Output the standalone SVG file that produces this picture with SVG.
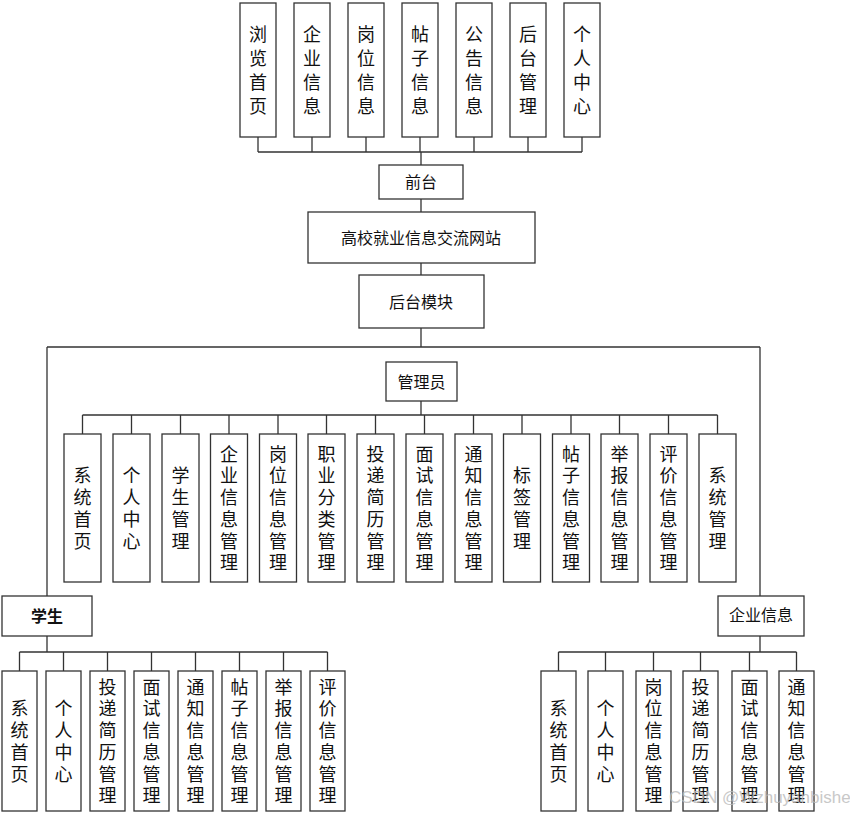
<svg xmlns="http://www.w3.org/2000/svg" width="850" height="813" viewBox="0 0 850 813">
<style>
rect.b{fill:#fff;stroke:#333;stroke-width:1.3}
.v{font-family:"Noto Sans CJK SC","Noto Sans",sans-serif;font-size:18px;fill:#111;text-anchor:middle;writing-mode:vertical-rl;letter-spacing:3.7px}
.vt{letter-spacing:6px}
.h{font-family:"Noto Sans CJK SC","Noto Sans",sans-serif;font-size:16px;fill:#111;text-anchor:middle}
.bold{font-weight:600}
#connectors path{fill:none;stroke:#333;stroke-width:1.3}
.wm{font-family:"Liberation Sans",Arial,sans-serif;font-size:17px;fill:#bbb;opacity:0.8}
</style>
<rect width="850" height="813" fill="#fff"/>
<g id="connectors">
<path d="M258 137V152M312 137V152M366 137V152M420 137V152M474 137V152M528 137V152M582 137V152M258 152H582M421 152V165"/>
<path d="M421 199V212M421 263V275M421 328V347M47 347H760M47 347V596M760 347V596"/>
<path d="M421 401V415M82.5 415H717.5M82.5 415V434M131.5 415V434M180.5 415V434M229 415V434M278 415V434M326.5 415V434M375.5 415V434M424.5 415V434M473.5 415V434M522 415V434M571 415V434M619.5 415V434M668.5 415V434M717.5 415V434"/>
<path d="M47 636V652M19.5 652H327.5M19.5 652V671M63.5 652V671M107.5 652V671M151.5 652V671M195.5 652V671M239.5 652V671M283.5 652V671M327.5 652V671"/>
<path d="M760 636V652M558.5 652H796.5M558.5 652V671M605.5 652V671M653.5 652V671M700.5 652V671M749.5 652V671M796.5 652V671"/>
</g>
<!-- top row -->
<g id="n_top1"><rect class="b" x="240" y="3" width="36" height="134"/><text class="v vt" x="258" y="73">浏览首页</text></g>
<g id="n_top2"><rect class="b" x="294" y="3" width="36" height="134"/><text class="v vt" x="312" y="73">企业信息</text></g>
<g id="n_top3"><rect class="b" x="348" y="3" width="36" height="134"/><text class="v vt" x="366" y="73">岗位信息</text></g>
<g id="n_top4"><rect class="b" x="402" y="3" width="36" height="134"/><text class="v vt" x="420" y="73">帖子信息</text></g>
<g id="n_top5"><rect class="b" x="456" y="3" width="36" height="134"/><text class="v vt" x="474" y="73">公告信息</text></g>
<g id="n_top6"><rect class="b" x="510" y="3" width="36" height="134"/><text class="v vt" x="528" y="73">后台管理</text></g>
<g id="n_top7"><rect class="b" x="564" y="3" width="36" height="134"/><text class="v vt" x="582" y="73">个人中心</text></g>
<!-- main column -->
<g id="n_qiantai"><rect class="b" x="379" y="165" width="84" height="34"/><text class="h" x="421" y="188">前台</text></g>
<g id="n_main"><rect class="b" x="308" y="212" width="227" height="51"/><text class="h" x="421" y="244">高校就业信息交流网站</text></g>
<g id="n_houtai"><rect class="b" x="359" y="275" width="125" height="53"/><text class="h" x="421" y="308">后台模块</text></g>
<g id="n_admin"><rect class="b" x="386" y="362" width="71" height="39"/><text class="h" x="421.5" y="388">管理员</text></g>
<!-- admin children -->
<g id="n_a1"><rect class="b" x="64" y="434" width="37" height="148"/><text class="v" x="82.5" y="510">系统首页</text></g>
<g id="n_a2"><rect class="b" x="113" y="434" width="37" height="148"/><text class="v" x="131.5" y="510">个人中心</text></g>
<g id="n_a3"><rect class="b" x="162" y="434" width="37" height="148"/><text class="v" x="180.5" y="510">学生管理</text></g>
<g id="n_a4"><rect class="b" x="210.5" y="434" width="37" height="148"/><text class="v" x="229" y="510">企业信息管理</text></g>
<g id="n_a5"><rect class="b" x="259.5" y="434" width="37" height="148"/><text class="v" x="278" y="510">岗位信息管理</text></g>
<g id="n_a6"><rect class="b" x="308" y="434" width="37" height="148"/><text class="v" x="326.5" y="510">职业分类管理</text></g>
<g id="n_a7"><rect class="b" x="357" y="434" width="37" height="148"/><text class="v" x="375.5" y="510">投递简历管理</text></g>
<g id="n_a8"><rect class="b" x="406" y="434" width="37" height="148"/><text class="v" x="424.5" y="510">面试信息管理</text></g>
<g id="n_a9"><rect class="b" x="455" y="434" width="37" height="148"/><text class="v" x="473.5" y="510">通知信息管理</text></g>
<g id="n_a10"><rect class="b" x="503.5" y="434" width="37" height="148"/><text class="v" x="522" y="510">标签管理</text></g>
<g id="n_a11"><rect class="b" x="552.5" y="434" width="37" height="148"/><text class="v" x="571" y="510">帖子信息管理</text></g>
<g id="n_a12"><rect class="b" x="601" y="434" width="37" height="148"/><text class="v" x="619.5" y="510">举报信息管理</text></g>
<g id="n_a13"><rect class="b" x="650" y="434" width="37" height="148"/><text class="v" x="668.5" y="510">评价信息管理</text></g>
<g id="n_a14"><rect class="b" x="699" y="434" width="37" height="148"/><text class="v" x="717.5" y="510">系统管理</text></g>
<!-- student -->
<g id="n_student"><rect class="b" x="2" y="596" width="90" height="40"/><text class="h bold" x="47" y="622">学生</text></g>
<g id="n_s1"><rect class="b" x="2" y="671" width="35" height="140"/><text class="v" x="19.5" y="743">系统首页</text></g>
<g id="n_s2"><rect class="b" x="46" y="671" width="35" height="140"/><text class="v" x="63.5" y="743">个人中心</text></g>
<g id="n_s3"><rect class="b" x="90" y="671" width="35" height="140"/><text class="v" x="107.5" y="743">投递简历管理</text></g>
<g id="n_s4"><rect class="b" x="134" y="671" width="35" height="140"/><text class="v" x="151.5" y="743">面试信息管理</text></g>
<g id="n_s5"><rect class="b" x="178" y="671" width="35" height="140"/><text class="v" x="195.5" y="743">通知信息管理</text></g>
<g id="n_s6"><rect class="b" x="222" y="671" width="35" height="140"/><text class="v" x="239.5" y="743">帖子信息管理</text></g>
<g id="n_s7"><rect class="b" x="266" y="671" width="35" height="140"/><text class="v" x="283.5" y="743">举报信息管理</text></g>
<g id="n_s8"><rect class="b" x="310" y="671" width="35" height="140"/><text class="v" x="327.5" y="743">评价信息管理</text></g>
<!-- company -->
<g id="n_company"><rect class="b" x="718" y="596" width="86" height="40"/><text class="h" x="761" y="621">企业信息</text></g>
<g id="n_c1"><rect class="b" x="541" y="671" width="35" height="140"/><text class="v" x="558.5" y="743">系统首页</text></g>
<g id="n_c2"><rect class="b" x="588" y="671" width="35" height="140"/><text class="v" x="605.5" y="743">个人中心</text></g>
<g id="n_c3"><rect class="b" x="636" y="671" width="35" height="140"/><text class="v" x="653.5" y="743">岗位信息管理</text></g>
<g id="n_c4"><rect class="b" x="683" y="671" width="35" height="140"/><text class="v" x="700.5" y="743">投递简历管理</text></g>
<g id="n_c5"><rect class="b" x="732" y="671" width="35" height="140"/><text class="v" x="749.5" y="743">面试信息管理</text></g>
<g id="n_c6"><rect class="b" x="779" y="671" width="35" height="140"/><text class="v" x="796.5" y="743">通知信息管理</text></g>
<text class="wm" x="669" y="803">CSDN @Wzhuyanbishe</text>
</svg>
